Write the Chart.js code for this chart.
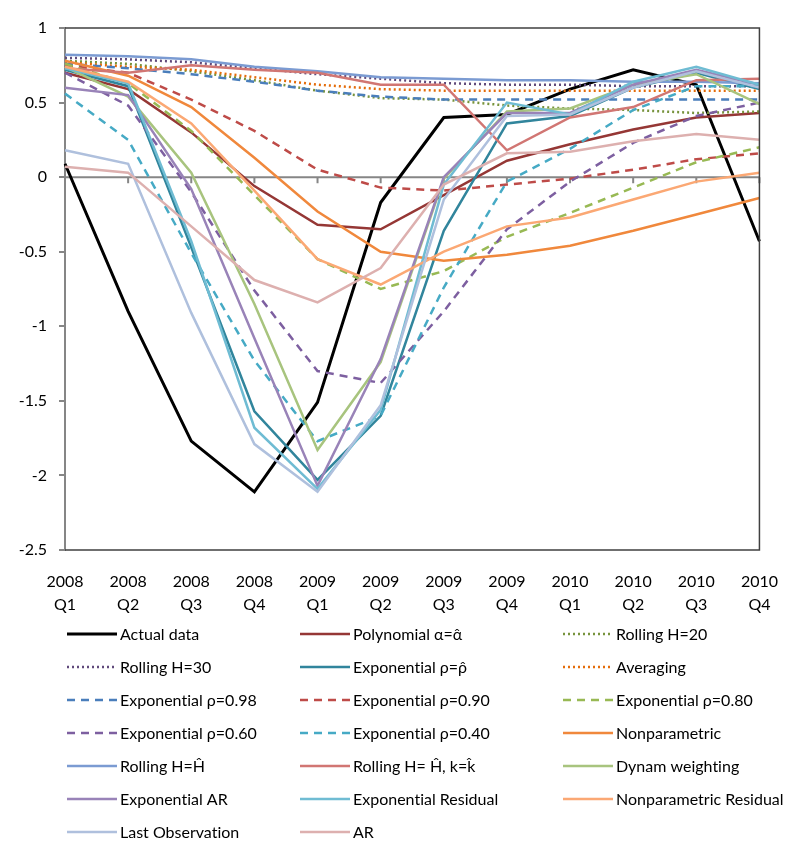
<!DOCTYPE html>
<html>
<head>
<meta charset="utf-8">
<script src="https://cdn.jsdelivr.net/npm/chart.js@4.4.1/dist/chart.umd.min.js"></script>
<style>
  html, body { margin: 0; padding: 0; background: #fff; }
  #wrap { width: 799px; height: 852px; position: relative; }
</style>
</head>
<body>
<div id="wrap"><canvas id="forecasts" width="799" height="852"></canvas></div>
<script>
// quarters on the x axis
var years = ["2008", "2008", "2008", "2008", "2009", "2009", "2009", "2009", "2010", "2010", "2010", "2010"];
var quarters = ["Q1", "Q2", "Q3", "Q4", "Q1", "Q2", "Q3", "Q4", "Q1", "Q2", "Q3", "Q4"];
var yTicks = [1, 0.5, 0, -0.5, -1, -1.5, -2, -2.5];

// series
var actual        = [0.09, -0.90, -1.77, -2.11, -1.51, -0.17, 0.40, 0.42, 0.59, 0.72, 0.62, -0.43];
var polynomial    = [0.70, 0.59, 0.30, -0.06, -0.32, -0.35, -0.12, 0.11, 0.22, 0.32, 0.40, 0.43];
var rolling20     = [0.78, 0.76, 0.71, 0.65, 0.58, 0.53, 0.52, 0.48, 0.46, 0.45, 0.43, 0.44];
var rolling30     = [0.80, 0.79, 0.77, 0.73, 0.69, 0.66, 0.63, 0.62, 0.62, 0.61, 0.61, 0.61];
var expHat        = [0.72, 0.61, -0.47, -1.57, -2.03, -1.60, -0.36, 0.36, 0.41, 0.60, 0.70, 0.59];
var averaging     = [0.77, 0.74, 0.72, 0.67, 0.62, 0.59, 0.58, 0.58, 0.58, 0.58, 0.58, 0.58];
var exp98         = [0.76, 0.73, 0.69, 0.64, 0.58, 0.54, 0.52, 0.52, 0.52, 0.52, 0.52, 0.52];
var exp90         = [0.75, 0.70, 0.52, 0.31, 0.05, -0.07, -0.09, -0.05, -0.01, 0.05, 0.12, 0.16];
var exp80         = [0.76, 0.63, 0.31, -0.12, -0.55, -0.75, -0.63, -0.40, -0.24, -0.07, 0.10, 0.20];
var exp60         = [0.70, 0.48, -0.10, -0.76, -1.30, -1.38, -0.90, -0.35, -0.03, 0.23, 0.41, 0.50];
var exp40         = [0.56, 0.25, -0.51, -1.23, -1.77, -1.60, -0.74, -0.03, 0.19, 0.45, 0.61, 0.61];
var nonparam      = [0.78, 0.68, 0.47, 0.13, -0.23, -0.50, -0.56, -0.52, -0.46, -0.36, -0.25, -0.14];
var rollingH      = [0.82, 0.81, 0.79, 0.74, 0.71, 0.67, 0.66, 0.65, 0.65, 0.64, 0.64, 0.63];
var rollingHK     = [0.73, 0.70, 0.75, 0.72, 0.70, 0.62, 0.62, 0.18, 0.40, 0.47, 0.65, 0.66];
var dynam         = [0.74, 0.54, 0.03, -0.85, -1.83, -1.24, -0.01, 0.44, 0.46, 0.62, 0.69, 0.49];
var expAR         = [0.60, 0.55, -0.08, -1.08, -2.07, -1.22, 0.00, 0.43, 0.43, 0.62, 0.72, 0.62];
var expResid      = [0.73, 0.63, -0.43, -1.68, -2.09, -1.56, -0.05, 0.50, 0.42, 0.64, 0.74, 0.62];
var nonparamResid = [0.74, 0.64, 0.36, -0.09, -0.55, -0.72, -0.50, -0.33, -0.27, -0.15, -0.03, 0.03];
var lastObs       = [0.18, 0.09, -0.91, -1.79, -2.11, -1.53, -0.15, 0.41, 0.42, 0.60, 0.71, 0.60];
var ar            = [0.07, 0.03, -0.33, -0.69, -0.84, -0.61, -0.05, 0.16, 0.17, 0.24, 0.29, 0.25];

var FONT = "Lato, 'Liberation Sans', sans-serif";
var SOLID = [], DASH = [8, 6], DOT = [2, 3];

function series(label, data, color, dash, width) {
  return {
    label: label,
    data: data,
    borderColor: color,
    backgroundColor: color,
    borderDash: dash,
    borderWidth: width || 2.5,
    pointRadius: 0,
    tension: 0,
    fill: false
  };
}

var datasets = [
  series("Actual data", actual, "#000000", SOLID, 3),
  series("Polynomial \u03b1=\u03b1\u0302", polynomial, "#953735", SOLID),
  series("Rolling H=20", rolling20, "#77933C", DOT),
  series("Rolling H=30", rolling30, "#604A7B", DOT),
  series("Exponential \u03c1=\u03c1\u0302", expHat, "#31859C", SOLID),
  series("Averaging", averaging, "#E46C0A", DOT),
  series("Exponential \u03c1=0.98", exp98, "#4A7EBB", DASH),
  series("Exponential \u03c1=0.90", exp90, "#BE4B48", DASH),
  series("Exponential \u03c1=0.80", exp80, "#98B954", DASH),
  series("Exponential \u03c1=0.60", exp60, "#7D5FA0", DASH),
  series("Exponential \u03c1=0.40", exp40, "#46AAC5", DASH),
  series("Nonparametric", nonparam, "#F0883C", SOLID),
  series("Rolling H=\u0124", rollingH, "#7B9BD2", SOLID),
  series("Rolling H= \u0124, k=k\u0302", rollingHK, "#D17673", SOLID),
  series("Dynam weighting", dynam, "#A8C47E", SOLID),
  series("Exponential AR", expAR, "#9983B8", SOLID),
  series("Exponential Residual", expResid, "#6FBCD3", SOLID),
  series("Nonparametric Residual", nonparamResid, "#FBA874", SOLID),
  series("Last Observation", lastObs, "#AFC0DD", SOLID),
  series("AR", ar, "#DDB0AF", SOLID)
];
// later series sit on top of earlier ones
datasets.forEach(function (ds, i) { ds.order = -i; });

// zero line with category ticks, plus the frame around the plot
var frame = {
  id: "frame",
  beforeDatasetsDraw: function (chart) {
    var ctx = chart.ctx, a = chart.chartArea;
    var x = chart.scales.x, y0 = chart.scales.y.getPixelForValue(0);
    ctx.save();
    ctx.strokeStyle = "#868686";
    ctx.lineWidth = 2;
    ctx.beginPath();
    ctx.moveTo(a.left, y0);
    ctx.lineTo(a.right, y0);
    for (var i = 1; i < x.ticks.length; i++) {
      var px = x.getPixelForTick(i);
      ctx.moveTo(px, y0);
      ctx.lineTo(px, y0 + 6);
    }
    ctx.stroke();
    ctx.restore();
  },
  afterDraw: function (chart) {
    var ctx = chart.ctx, a = chart.chartArea;
    ctx.save();
    ctx.strokeStyle = "#404040";
    ctx.lineWidth = 1.5;
    ctx.beginPath();
    ctx.moveTo(a.left, a.top);
    ctx.lineTo(a.right, a.top);
    ctx.lineTo(a.right, a.bottom);
    ctx.lineTo(a.left, a.bottom);
    ctx.stroke();
    ctx.restore();
  }
};

// three-column legend under the axis labels
var legendGrid = {
  id: "legendGrid",
  afterDraw: function (chart) {
    var ctx = chart.ctx;
    var cols = [67, 300, 563];
    var top = chart.chartArea.bottom + 84;
    chart.data.datasets.forEach(function (ds, i) {
      var x = cols[i % 3], y = top + Math.floor(i / 3) * 33;
      ctx.save();
      ctx.strokeStyle = ds.borderColor;
      ctx.lineWidth = ds.borderWidth;
      ctx.setLineDash(ds.borderDash);
      ctx.beginPath();
      ctx.moveTo(x, y);
      ctx.lineTo(x + 50, y);
      ctx.stroke();
      ctx.setLineDash([]);
      ctx.fillStyle = "#000";
      ctx.font = "16px " + FONT;
      ctx.textRendering = "optimizeSpeed"; // no "ti" ligature
      ctx.textBaseline = "middle";
      ctx.fillText(ds.label, x + 53, y + 1);
      ctx.restore();
    });
  }
};

new Chart(document.getElementById("forecasts").getContext("2d"), {
  type: "line",
  data: {
    labels: years.map(function (y, i) { return [y, quarters[i]]; }),
    datasets: datasets
  },
  options: {
    responsive: false,
    animation: false,
    layout: { padding: { top: 28, right: 22, bottom: 232, left: 0 } },
    plugins: { legend: { display: false }, tooltip: { enabled: false } },
    scales: {
      x: {
        offset: false,
        grid: { display: false, drawTicks: false },
        border: { display: false },
        ticks: {
          color: "#000",
          font: { family: FONT, size: 16, lineHeight: 1.4 },
          padding: 21,
          maxRotation: 0,
          autoSkip: false
        },
        afterFit: function (s) { s.height = 70; }
      },
      y: {
        min: -2.5,
        max: 1,
        afterBuildTicks: function (s) {
          s.ticks = yTicks.map(function (v) { return { value: v }; });
        },
        ticks: {
          color: "#000",
          font: { family: FONT, size: 16 },
          padding: 12,
          callback: function (v) { return String(v); }
        },
        grid: { drawOnChartArea: false, drawTicks: true, tickLength: 6, color: "#868686", lineWidth: 2 },
        border: { display: true, color: "#868686", width: 2 },
        afterFit: function (s) { s.width = 65; }
      }
    }
  },
  plugins: [frame, legendGrid]
});
</script>
</body>
</html>
